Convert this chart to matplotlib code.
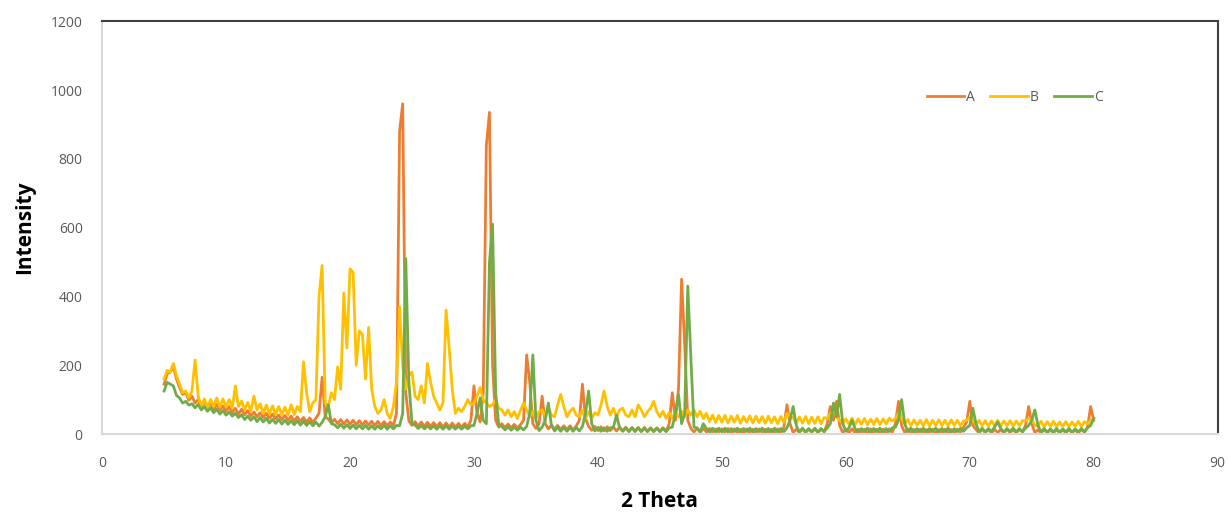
import numpy as np
import matplotlib
matplotlib.use("Agg")
import matplotlib.pyplot as plt

# 2-theta sampling grid (5 to 80 deg, step 0.25)
two_theta = np.linspace(5, 80, 301)

# intensities, one row = 5 degrees
int_a = [
    145, 175, 180, 195, 160, 135, 115, 120, 98, 110, 90, 100, 82, 95, 78, 90, 72, 86, 70, 82,
    66, 80, 62, 75, 58, 72, 56, 68, 52, 64, 50, 62, 48, 60, 46, 58, 44, 55, 42, 54,
    40, 52, 38, 50, 37, 48, 35, 47, 34, 46, 60, 165, 50, 44, 32, 43, 30, 42, 29, 41,
    28, 40, 27, 39, 26, 38, 26, 37, 25, 37, 24, 36, 24, 35, 25, 60, 880, 960, 120, 38,
    25, 36, 23, 35, 22, 34, 22, 33, 21, 33, 20, 32, 20, 32, 20, 31, 19, 31, 20, 40,
    140, 60, 35, 120, 840, 935, 200, 40, 20, 30, 19, 29, 18, 28, 18, 27, 40, 230, 150, 30,
    16, 30, 110, 30, 15, 26, 14, 25, 13, 24, 13, 24, 12, 23, 40, 145, 45, 22, 11, 22,
    10, 21, 9, 21, 10, 20, 9, 20, 9, 20, 8, 19, 9, 19, 8, 19, 8, 18, 8, 18,
    8, 18, 8, 30, 120, 40, 130, 450, 260, 40, 16, 6, 17, 5, 16, 6, 16, 5, 15, 6,
    15, 5, 16, 4, 15, 5, 14, 4, 15, 5, 14, 4, 15, 5, 14, 4, 14, 5, 15, 4,
    20, 85, 30, 4, 14, 5, 15, 4, 14, 5, 15, 4, 14, 6, 30, 80, 40, 95, 25, 4,
    14, 4, 15, 3, 14, 4, 14, 3, 15, 4, 14, 3, 14, 4, 15, 5, 30, 95, 25, 4,
    14, 3, 13, 4, 14, 3, 13, 4, 14, 3, 13, 4, 14, 3, 13, 4, 14, 5, 20, 35,
    95, 25, 13, 3, 14, 4, 13, 3, 14, 4, 13, 3, 14, 4, 13, 3, 14, 5, 25, 80,
    30, 4, 12, 3, 13, 4, 12, 3, 13, 4, 12, 3, 13, 4, 12, 3, 13, 5, 20, 80,
    40,
]

int_b = [
    160, 185, 180, 205, 170, 145, 120, 125, 105, 125, 215, 110, 80, 102, 78, 100, 80, 105, 78, 102,
    78, 100, 75, 140, 80, 96, 70, 92, 66, 110, 70, 88, 60, 84, 58, 82, 56, 80, 56, 78,
    55, 85, 56, 80, 65, 210, 120, 65, 90, 100, 400, 490, 90, 80, 120, 100, 195, 130, 410, 250,
    480, 470, 200, 300, 290, 160, 310, 130, 80, 60, 70, 100, 60, 45, 80, 150, 370, 200, 130, 170,
    180, 110, 100, 140, 90, 205, 150, 110, 90, 70, 90, 360, 250, 130, 60, 75, 65, 80, 100, 85,
    90, 110, 135, 100, 90, 80, 85, 100, 75, 70, 55, 70, 50, 65, 45, 68, 90, 70, 50, 65,
    45, 65, 70, 50, 78, 55, 50, 85, 115, 80, 50, 66, 75, 55, 50, 70, 45, 65, 45, 62,
    55, 85, 125, 80, 55, 75, 50, 70, 75, 55, 50, 70, 50, 85, 70, 50, 65, 75, 95, 65,
    50, 66, 45, 62, 46, 65, 50, 66, 50, 70, 55, 70, 50, 66, 45, 60, 36, 55, 34, 54,
    34, 54, 32, 52, 34, 54, 31, 51, 34, 53, 32, 52, 33, 51, 31, 52, 32, 50, 30, 51,
    34, 60, 50, 48, 30, 50, 32, 51, 30, 49, 31, 50, 30, 48, 45, 60, 70, 50, 40, 30,
    44, 28, 46, 27, 44, 28, 45, 27, 43, 28, 45, 27, 44, 29, 46, 38, 45, 60, 45, 29,
    42, 24, 41, 25, 40, 24, 42, 23, 40, 25, 41, 24, 40, 23, 41, 25, 40, 24, 38, 40,
    50, 40, 26, 40, 24, 39, 23, 38, 24, 40, 23, 38, 24, 39, 23, 38, 24, 39, 38, 45,
    42, 26, 22, 37, 21, 36, 22, 37, 21, 35, 22, 36, 21, 35, 22, 37, 21, 36, 30, 40,
    45,
]

int_c = [
    125, 150, 145, 140, 112, 105, 90, 95, 84, 88, 76, 86, 70, 80, 66, 76, 62, 72, 58, 68,
    55, 64, 52, 60, 48, 56, 42, 52, 40, 50, 36, 48, 35, 46, 32, 43, 31, 42, 29, 40,
    28, 39, 27, 38, 26, 37, 25, 36, 24, 35, 23, 34, 50, 85, 30, 27, 18, 28, 17, 27,
    16, 26, 15, 25, 15, 25, 14, 24, 14, 24, 15, 25, 14, 24, 15, 25, 24, 60, 510, 150,
    30, 26, 16, 25, 15, 24, 15, 24, 14, 24, 14, 24, 14, 23, 14, 23, 14, 23, 15, 24,
    25, 60, 105, 40, 30, 500, 610, 120, 25, 22, 12, 21, 11, 20, 11, 20, 12, 22, 60, 230,
    40, 10, 20, 40, 90, 25, 9, 20, 8, 19, 8, 19, 8, 19, 9, 22, 60, 125, 30, 9,
    19, 8, 18, 8, 18, 20, 55, 18, 8, 18, 7, 18, 7, 18, 7, 17, 7, 17, 7, 17,
    7, 17, 7, 18, 20, 60, 115, 30, 60, 430, 220, 20, 18, 6, 30, 16, 6, 17, 6, 17,
    6, 17, 6, 16, 7, 17, 6, 16, 7, 17, 6, 16, 7, 17, 6, 16, 6, 17, 6, 16,
    7, 18, 40, 80, 25, 6, 17, 6, 16, 7, 17, 6, 16, 7, 18, 30, 90, 50, 115, 30,
    8, 18, 40, 15, 6, 16, 7, 17, 6, 16, 7, 17, 6, 16, 7, 18, 20, 40, 100, 30,
    7, 17, 6, 16, 7, 17, 6, 16, 7, 17, 6, 16, 7, 17, 6, 16, 7, 17, 8, 18,
    25, 75, 30, 6, 17, 6, 16, 7, 20, 35, 16, 6, 16, 7, 17, 6, 16, 7, 17, 25,
    40, 70, 25, 6, 16, 5, 15, 6, 16, 5, 15, 6, 16, 5, 15, 6, 16, 7, 18, 25,
    45,
]

labels = ["A", "B", "C"]
colors = ["#ED7D31", "#FFC000", "#70AD47"]

fig = plt.figure(figsize=(12.3, 5.17), dpi=100)
ax = fig.add_axes([0.083, 0.1605, 0.907, 0.7985])

for y, lab, col in zip([int_a, int_b, int_c], labels, colors):
    ax.plot(two_theta, y, color=col, lw=2.0, label=lab, solid_joinstyle="round")

ax.set_xlim(0, 90)
ax.set_ylim(0, 1200)
ax.set_xticks(range(0, 91, 10))
ax.set_yticks(range(0, 1201, 200))

tick_font = {"family": "Open Sans", "size": 10, "color": "#595959"}
ax.set_xticklabels([str(v) for v in range(0, 91, 10)], fontdict=tick_font)
ax.set_yticklabels([str(v) for v in range(0, 1201, 200)], fontdict=tick_font)
ax.tick_params(axis="both", length=0)
ax.tick_params(axis="x", pad=16)
ax.tick_params(axis="y", pad=14)

for side in ["top", "right"]:
    ax.spines[side].set_color("#404040")
    ax.spines[side].set_linewidth(1.5)
for side in ["left", "bottom"]:
    ax.spines[side].set_color("#d9d9d9")
    ax.spines[side].set_linewidth(1.5)

ax.set_xlabel("2 Theta", fontsize=15, fontweight="bold", family="Open Sans", labelpad=14)
ax.set_ylabel("Intensity", fontsize=15, fontweight="bold", family="Open Sans", labelpad=11)

leg = ax.legend(loc="center", bbox_to_anchor=(0.818, 0.816), ncol=3, frameon=False,
                handlelength=2.7, handletextpad=0.15, columnspacing=1.1,
                prop={"family": "Open Sans", "size": 10})
for t in leg.get_texts():
    t.set_color("#595959")

plt.savefig("out.png", dpi=100)
